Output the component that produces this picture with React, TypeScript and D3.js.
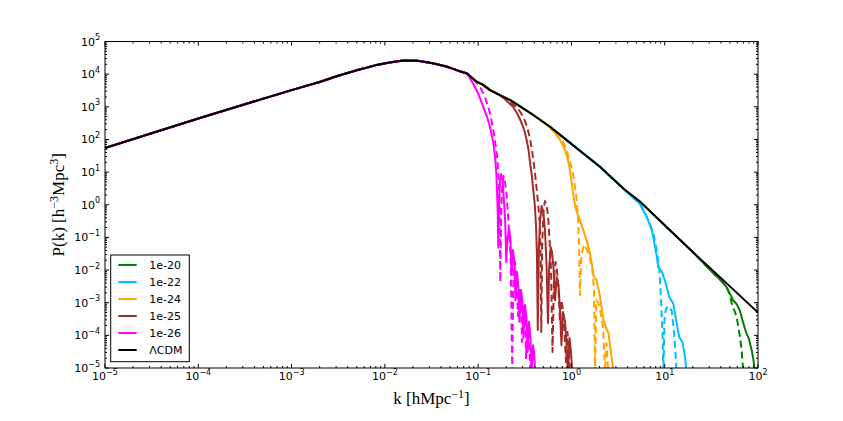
import * as d3 from "d3";

const W = 843;
const H = 421;
const M = { left: 105, right: 758, top: 41.5, bottom: 368 };

// ΛCDM linear power spectrum, [k, P(k)]
const lcdm: number[][] = [
  [1e-5, 55], [3.16e-5, 155], [1e-4, 437], [3.16e-4, 1200], [1e-3, 3240],
  [2e-3, 5750], [3.16e-3, 8900], [5e-3, 1.32e4], [7.9e-3, 1.86e4], [0.0112, 2.29e4],
  [0.0158, 2.63e4], [0.0224, 2.57e4], [0.0316, 2.19e4], [0.0447, 1.74e4], [0.06, 1.3e4],
  [0.076, 1.05e4], [0.096, 5900], [0.1135, 4680], [0.134, 3240], [0.171, 2290],
  [0.219, 1620], [0.316, 830], [0.39, 562], [0.589, 245], [0.889, 95.5],
  [2.02, 14.6], [3.75, 2.82], [5.43, 1.245], [10, 0.234], [20, 0.0355],
  [50, 3.16e-3], [100, 5.0e-4],
];

// cut-off tails of each model (solid and dashed), [k, P(k)]
const tail20 = [
  [36.1, 6.3e-3], [40.6, 4.6e-3], [46.1, 3.0e-3], [50.1, 1.86e-3], [54.3, 1.17e-3],
  [59.0, 9.1e-4], [64.1, 5.6e-4], [69.5, 2.4e-4], [74.3, 1.26e-4], [80.0, 7.8e-5],
  [85.5, 3.5e-5], [89.4, 1.8e-5], [92.7, 7.5e-6],
];
const tail20d = [
  [36.1, 6.3e-3], [40.6, 4.6e-3], [46.1, 3.0e-3], [49.4, 1.86e-3], [52.2, 9.8e-4],
  [59.0, 3.7e-4], [64.1, 8.9e-5], [66.8, 3.5e-5], [69.5, 7.5e-6],
];
const tail22 = [
  [5.43, 1.05], [5.92, 0.64], [6.41, 0.42], [6.87, 0.26], [7.25, 0.17],
  [7.58, 0.096], [7.87, 0.051], [8.2, 0.027], [8.53, 0.0123], [9.27, 9.3e-3],
  [10.07, 4.7e-3], [10.7, 2.45e-3], [11.2, 1.5e-3], [12.4, 9.1e-4], [13.4, 2.4e-4],
  [14.3, 8.9e-5], [15.6, 5.9e-5], [16.5, 2.2e-5], [17.1, 7.5e-6],
];
const tail22d = [
  [5.43, 1.05], [5.92, 0.69], [6.66, 0.34], [7.54, 0.137], [8.2, 0.041],
  [8.75, 0.01], [8.97, 3.5e-3], [9.19, 8.5e-4], [9.49, 8.9e-5], [9.68, 7.5e-6],
  [9.94, 3e-4], [10.3, 6.5e-4], [10.9, 7.9e-4], [11.9, 5.6e-4], [12.4, 1.95e-4],
  [12.9, 4.8e-5], [13.4, 7.5e-6],
];
const tail24 = [
  [0.589, 229], [0.667, 158], [0.754, 96], [0.853, 47.5], [0.918, 23.5],
  [0.965, 11.5], [1.014, 4.0], [1.052, 1.73], [1.11, 0.79], [1.175, 0.49],
  [1.235, 0.34], [1.34, 0.17], [1.45, 0.083], [1.58, 0.033], [1.66, 0.0145],
  [1.72, 7.1e-3], [1.85, 5e-3], [2.02, 1.6e-3], [2.12, 6e-4], [2.21, 3e-4],
  [2.34, 1.8e-4], [2.49, 1.18e-4], [2.62, 4.1e-5], [2.72, 1.8e-5], [2.82, 7.5e-6],
];
const tail24d = [
  [0.589, 245], [0.723, 158], [0.811, 89], [0.889, 47.5], [0.953, 23.5],
  [1.006, 13.4], [1.052, 7.1], [1.091, 3.5], [1.138, 1.4], [1.175, 0.49],
  [1.205, 0.059], [1.235, 1.73e-3], [1.28, 0.029], [1.364, 0.059], [1.47, 0.041],
  [1.58, 0.0234], [1.68, 0.01], [1.745, 2.45e-3], [1.79, 7.5e-6], [1.85, 1.2e-3],
  [1.95, 9.8e-4], [2.07, 4.2e-4], [2.19, 1.7e-4], [2.29, 7.5e-6], [2.38, 5.8e-5],
  [2.48, 7.5e-6],
];
const tail25 = [
  [0.194, 1700], [0.214, 1310], [0.238, 980], [0.264, 600], [0.293, 318],
  [0.314, 182], [0.331, 96], [0.347, 47.5], [0.36, 19], [0.376, 8.1],
  [0.39, 2.8], [0.405, 0.98], [0.417, 0.24], [0.427, 0.029], [0.436, 1.45e-4],
  [0.447, 0.041], [0.46, 0.3], [0.48, 0.91], [0.499, 0.6], [0.52, 0.17],
  [0.54, 0.0177], [0.561, 2.4e-4], [0.577, 0.0115], [0.6, 0.05], [0.619, 0.0355],
  [0.643, 0.0115], [0.667, 1.2e-3], [0.695, 6.1e-3], [0.727, 3.5e-3], [0.754, 6e-4],
  [0.782, 5e-5], [0.811, 5.2e-4], [0.853, 2.6e-4], [0.885, 6.3e-5], [0.918, 6e-6],
  [0.953, 8.3e-5], [0.989, 3.1e-5], [1.026, 6e-6],
];
const tail25d = [
  [0.209, 1510], [0.231, 1230], [0.259, 980], [0.288, 645], [0.318, 363],
  [0.342, 195], [0.362, 96], [0.38, 41.5], [0.394, 19], [0.41, 7.6],
  [0.425, 2.8], [0.441, 0.98], [0.457, 0.3], [0.467, 0.029], [0.475, 1.26e-4],
  [0.486, 0.059], [0.501, 0.6], [0.52, 1.3], [0.543, 0.98], [0.564, 0.39],
  [0.583, 0.083], [0.604, 0.0115], [0.627, 3.1e-5], [0.65, 5e-3], [0.675, 0.0177],
  [0.7, 0.01], [0.727, 2.45e-3], [0.754, 2.6e-4], [0.782, 1.2e-3], [0.811, 6e-4],
  [0.842, 1.26e-4], [0.875, 1.5e-5], [0.907, 1.26e-4], [0.942, 3.5e-5], [0.965, 6e-6],
];
const tail26 = [
  [0.0887, 5000], [0.0995, 2650], [0.1135, 1000], [0.1245, 490], [0.134, 245],
  [0.145, 83], [0.152, 29], [0.157, 8.1], [0.16, 2.0], [0.1625, 0.49],
  [0.1644, 0.048], [0.167, 0.98], [0.1714, 5.0], [0.1766, 8.7], [0.1824, 5.7],
  [0.189, 1.4], [0.195, 0.3], [0.2003, 0.0177], [0.206, 0.083], [0.214, 0.194],
  [0.222, 0.096], [0.228, 7.1e-3], [0.236, 0.041], [0.245, 0.0165], [0.251, 1.2e-3],
  [0.261, 8.7e-3], [0.271, 2.8e-3], [0.277, 2.6e-4], [0.288, 2.45e-3], [0.299, 1.05e-3],
  [0.306, 8.3e-5], [0.318, 8.5e-4], [0.33, 3.4e-4], [0.338, 3.1e-5], [0.351, 2.6e-4],
  [0.364, 8.3e-5], [0.373, 6e-6], [0.387, 5e-5], [0.397, 3.1e-5], [0.412, 6e-6],
];
const tail26d = [
  [0.0948, 5750], [0.1047, 4070], [0.1183, 2000], [0.134, 645], [0.148, 148],
  [0.159, 33], [0.1665, 6.6], [0.17, 0.69], [0.1727, 4.3e-3], [0.1766, 0.49],
  [0.181, 3.7], [0.1875, 7.6], [0.194, 5.0], [0.202, 2.0], [0.209, 0.49],
  [0.216, 0.12], [0.223, 0.0234], [0.232, 8e-6], [0.239, 0.01], [0.248, 0.0177],
  [0.2576, 4.3e-3], [0.267, 3.9e-4], [0.277, 2.45e-3], [0.288, 1.2e-3], [0.295, 6.3e-5],
  [0.306, 8.5e-4], [0.318, 3.4e-4], [0.326, 2e-5], [0.338, 1.95e-4], [0.351, 7.2e-5],
  [0.364, 6e-6],
];

const labels = ["1e-20", "1e-22", "1e-24", "1e-25", "1e-26"];
const colors = ["#008000", "#00bfff", "#ffa500", "#a52a2a", "#ff00ff"];
const solids = [tail20, tail22, tail24, tail25, tail26];
const dashes = [tail20d, tail22d, tail24d, tail25d, tail26d];

const TICK_FONT = "'DejaVu Sans', sans-serif";
const LABEL_FONT = "'Liberation Serif', 'Times New Roman', serif";

const expLabel = (v: number) => {
  const e = Math.round(Math.log10(v));
  return e < 0 ? `\u2212${-e}` : `${e}`;
};
const isMajor = (v: number) => Math.abs(Math.log10(v) - Math.round(Math.log10(v))) < 1e-6;

export default function App() {
  const x = d3.scaleLog().domain([1e-5, 1e2]).range([M.left, M.right]);
  const y = d3.scaleLog().domain([1e-5, 1e5]).range([M.bottom, M.top]);
  const line = d3
    .line<number[]>()
    .x((d) => x(d[0]))
    .y((d) => y(d[1]));

  // each model follows ΛCDM until its own tail starts
  const withPrefix = (tail: number[][]) => [
    ...lcdm.filter((p) => p[0] < tail[0][0]),
    ...tail,
  ];

  const xTicks = x.ticks(20);
  const yTicks = y.ticks(20);

  return (
    <svg
      width={W}
      height={H}
      style={{ position: "absolute", left: 0, top: 0, background: "#fff" }}
    >
      <defs>
        <clipPath id="plot">
          <rect x={M.left} y={M.top} width={M.right - M.left} height={M.bottom - M.top} />
        </clipPath>
      </defs>

      <g clipPath="url(#plot)" fill="none" strokeWidth={2} strokeLinejoin="round">
        {solids.map((s, i) => (
          <g key={labels[i]} stroke={colors[i]}>
            <path d={line(withPrefix(s)) ?? ""} />
            <path d={line(withPrefix(dashes[i])) ?? ""} strokeDasharray="7,4" />
          </g>
        ))}
        <path d={line(lcdm) ?? ""} stroke="#000" />
      </g>

      {/* ticks, inward on all four sides */}
      <g stroke="#000" strokeWidth={1}>
        {xTicks.map((t) => {
          const len = isMajor(t) ? 4 : 2;
          const px = x(t);
          return (
            <g key={"x" + t}>
              <line x1={px} x2={px} y1={M.bottom} y2={M.bottom - len} />
              <line x1={px} x2={px} y1={M.top} y2={M.top + len} />
            </g>
          );
        })}
        {yTicks.map((t) => {
          const len = isMajor(t) ? 4 : 2;
          const py = y(t);
          return (
            <g key={"y" + t}>
              <line x1={M.left} x2={M.left + len} y1={py} y2={py} />
              <line x1={M.right} x2={M.right - len} y1={py} y2={py} />
            </g>
          );
        })}
      </g>

      <rect
        x={M.left}
        y={M.top}
        width={M.right - M.left}
        height={M.bottom - M.top}
        fill="none"
        stroke="#000"
        strokeWidth={1}
      />

      <g fontFamily={TICK_FONT} fontSize={11} fill="#000">
        {xTicks.filter(isMajor).map((t) => (
          <text key={"xl" + t} x={x(t)} y={380} textAnchor="middle">
            <tspan>10</tspan>
            <tspan dy={-5.5} fontSize={8}>
              {expLabel(t)}
            </tspan>
          </text>
        ))}
        {yTicks.filter(isMajor).map((t) => (
          <text key={"yl" + t} x={100} y={y(t) + 4} textAnchor="end">
            <tspan>10</tspan>
            <tspan dy={-5.5} fontSize={8}>
              {expLabel(t)}
            </tspan>
          </text>
        ))}
      </g>

      <g fontFamily={LABEL_FONT} fontSize={17} fill="#000">
        <text x={(M.left + M.right) / 2} y={404} textAnchor="middle">
          <tspan>k [hMpc</tspan>
          <tspan dy={-6} fontSize={12}>
            {"\u22121"}
          </tspan>
          <tspan dy={6}>]</tspan>
        </text>
        <text
          transform={`translate(64,${(M.top + M.bottom) / 2}) rotate(-90)`}
          textAnchor="middle"
        >
          <tspan>P(k) [h</tspan>
          <tspan dy={-6} fontSize={12}>
            {"\u22123"}
          </tspan>
          <tspan dy={6}>Mpc</tspan>
          <tspan dy={-6} fontSize={12}>
            3
          </tspan>
          <tspan dy={6}>]</tspan>
        </text>
      </g>

      {/* legend */}
      <g fontFamily={TICK_FONT} fontSize={11}>
        <rect x={110.7} y={255} width={78.6} height={106.7} fill="#fff" stroke="#000" strokeWidth={1} />
        {[...labels, "\u039bCDM"].map((lab, i) => {
          const ry = 265 + i * 17;
          return (
            <g key={"lg" + lab}>
              <line
                x1={118.3}
                x2={136.7}
                y1={ry}
                y2={ry}
                stroke={i < colors.length ? colors[i] : "#000"}
                strokeWidth={2}
              />
              <text x={149.3} y={ry + 4}>
                {lab}
              </text>
            </g>
          );
        })}
      </g>
    </svg>
  );
}
